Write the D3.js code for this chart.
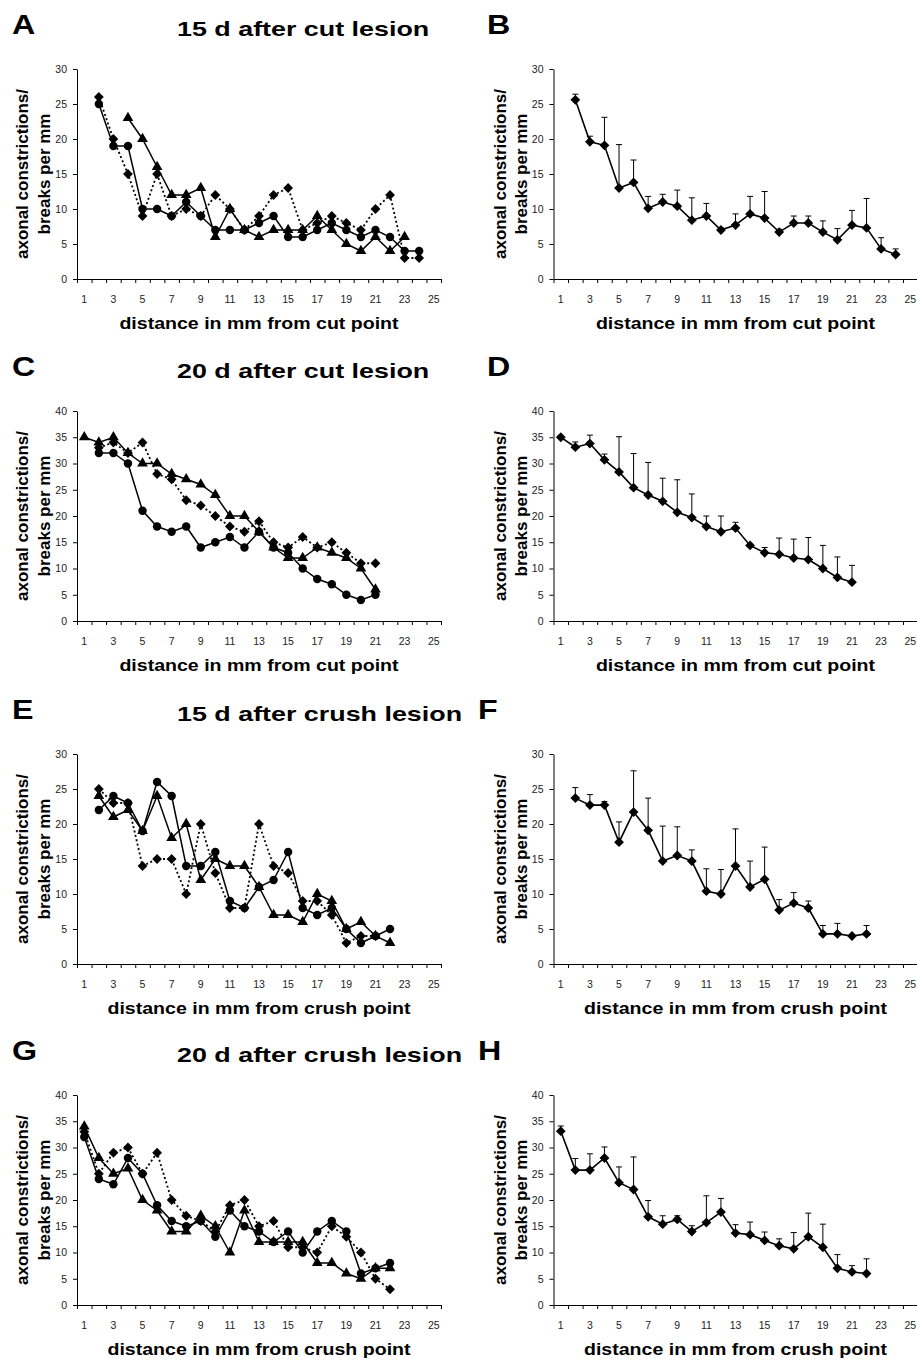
<!DOCTYPE html>
<html>
<head>
<meta charset="utf-8">
<script src="https://cdnjs.cloudflare.com/ajax/libs/d3/7.8.5/d3.min.js"></script>
<style>
  body { margin: 0; background: #fff; }
  svg text { font-family: "Liberation Sans", Arial, sans-serif; }
</style>
</head>
<body>
<svg id="fig" width="917" height="1363"></svg>
<script>
// values indexed by distance (index 0 = 1 mm); null where no point was drawn
var aDiamond  = [null, 26, 20, 15, 9, 15, 9, 10, 9, 12, 10, 7, 9, 12, 13, 7, 8, 9, 8, 7, 10, 12, 3, 3];
var aCircle   = [null, 25, 19, 19, 10, 10, 9, 11, 9, 7, 7, 7, 8, 9, 6, 6, 7, 8, 7, 6, 7, 6, 4, 4];
var aTriangle = [null, null, null, 23, 20, 16, 12, 12, 13, 6, 10, 7, 6, 7, 7, 7, 9, 7, 5, 4, 6, 4, 6, null];
var bMean = [null, 25.6, 19.6, 19.1, 13.0, 13.8, 10.1, 11.0, 10.4, 8.4, 9.0, 7.0, 7.7, 9.3, 8.7, 6.7, 8.0, 8.0, 6.7, 5.6, 7.7, 7.3, 4.3, 3.5];
var bSd   = [null, 0.8, 0.8, 4.0, 6.2, 3.2, 1.7, 1.1, 2.3, 3.2, 1.8, 0.3, 1.6, 2.5, 3.8, 0.4, 1.0, 1.0, 1.6, 1.6, 2.1, 4.2, 1.6, 0.8];

var cDiamond  = [null, 33, 34, 32, 34, 28, 27, 23, 22, 20, 18, 17, 19, 15, 14, 16, 14, 15, 13, 11, 11];
var cCircle   = [null, 32, 32, 30, 21, 18, 17, 18, 14, 15, 16, 14, 17, 14, 13, 10, 8, 7, 5, 4, 5];
var cTriangle = [35, 34, 35, 32, 30, 30, 28, 27, 26, 24, 20, 20, 17, 14, 12, 12, 14, 13, 12, 10, 6];
var dMean = [35.0, 33.1, 33.8, 30.7, 28.4, 25.4, 24.0, 22.8, 20.7, 19.7, 18.0, 17.0, 17.7, 14.4, 13.0, 12.7, 12.0, 11.7, 10.0, 8.3, 7.4];
var dSd   = [0.3, 1.0, 1.6, 1.1, 6.7, 6.5, 6.2, 4.4, 6.2, 4.5, 2.0, 3.0, 1.1, 0.3, 1.0, 3.1, 3.6, 4.2, 4.4, 3.9, 3.2];

var eDiamond  = [null, 25, 23, 23, 14, 15, 15, 10, 20, 13, 8, 8, 20, 14, 13, 9, 9, 7, 3, 4, 4, null];
var eCircle   = [null, 22, 24, 23, 19, 26, 24, 14, 14, 16, 9, 8, 11, 12, 16, 8, 7, 8, 5, 3, 4, 5];
var eTriangle = [null, 24, 21, 22, 19, 24, 18, 20, 12, 15, 14, 14, 11, 7, 7, 6, 10, 9, 5, 6, 4, 3];
var fMean = [null, 23.7, 22.7, 22.7, 17.4, 21.7, 19.1, 14.7, 15.5, 14.7, 10.4, 10.0, 14.0, 11.0, 12.1, 7.7, 8.7, 8.0, 4.3, 4.3, 4.0, 4.3];
var fSd   = [null, 1.5, 1.5, 0.5, 2.9, 5.9, 4.6, 5.0, 4.1, 1.6, 3.2, 3.5, 5.3, 3.7, 4.6, 1.5, 1.5, 1.0, 1.2, 1.5, 0.2, 1.2];

var gDiamond  = [33, 25, 29, 30, 25, 29, 20, 17, 16, 14, 19, 20, 15, 16, 11, 11, 10, 15, 13, 10, 5, 3];
var gCircle   = [32, 24, 23, 28, 25, 19, 16, 15, 16, 13, 18, 15, 14, 12, 14, 10, 14, 16, 14, 6, 7, 8];
var gTriangle = [34, 28, 25, 26, 20, 18, 14, 14, 17, 15, 10, 18, 12, 12, 12, 12, 8, 8, 6, 5, 7, 7];
var hMean = [33.1, 25.7, 25.7, 28.0, 23.3, 22.0, 16.8, 15.4, 16.3, 14.0, 15.7, 17.7, 13.7, 13.4, 12.3, 11.3, 10.7, 13.0, 11.0, 7.0, 6.3, 6.0];
var hSd   = [1.0, 2.2, 3.1, 2.1, 3.0, 6.2, 3.1, 1.6, 0.7, 1.1, 5.1, 2.6, 1.6, 2.4, 1.6, 1.3, 3.1, 4.5, 4.4, 2.6, 1.2, 2.8];

var xLabels = [1, 3, 5, 7, 9, 11, 13, 15, 17, 19, 21, 23, 25];
var yTicks30 = [0, 5, 10, 15, 20, 25, 30];
var yTicks40 = [0, 5, 10, 15, 20, 25, 30, 35, 40];
var yTitle = ['axonal constrictions/', 'breaks per mm'];

var panels = [
  { letter: 'A', title: '15 d after cut lesion', row: 0, col: 0, ticks: yTicks30, xTitle: 'distance in mm from cut point',
    series: [{ vals: aCircle, mark: 'circle' }, { vals: aTriangle, mark: 'triangle' }, { vals: aDiamond, mark: 'diamond', dotted: true }] },
  { letter: 'B', row: 0, col: 1, ticks: yTicks30, xTitle: 'distance in mm from cut point', mean: bMean, sd: bSd },
  { letter: 'C', title: '20 d after cut lesion', row: 1, col: 0, ticks: yTicks40, xTitle: 'distance in mm from cut point',
    series: [{ vals: cCircle, mark: 'circle' }, { vals: cTriangle, mark: 'triangle' }, { vals: cDiamond, mark: 'diamond', dotted: true }] },
  { letter: 'D', row: 1, col: 1, ticks: yTicks40, xTitle: 'distance in mm from cut point', mean: dMean, sd: dSd },
  { letter: 'E', title: '15 d after crush lesion', row: 2, col: 0, ticks: yTicks30, xTitle: 'distance in mm from crush point',
    series: [{ vals: eCircle, mark: 'circle' }, { vals: eTriangle, mark: 'triangle' }, { vals: eDiamond, mark: 'diamond', dotted: true }] },
  { letter: 'F', row: 2, col: 1, ticks: yTicks30, xTitle: 'distance in mm from crush point', mean: fMean, sd: fSd },
  { letter: 'G', title: '20 d after crush lesion', row: 3, col: 0, ticks: yTicks40, xTitle: 'distance in mm from crush point',
    series: [{ vals: gCircle, mark: 'circle' }, { vals: gTriangle, mark: 'triangle' }, { vals: gDiamond, mark: 'diamond', dotted: true }] },
  { letter: 'H', row: 3, col: 1, ticks: yTicks40, xTitle: 'distance in mm from crush point', mean: hMean, sd: hSd }
];

var rowTops = [69, 411, 754, 1095];
var colLefts = [77, 553.5];
var letterX = { A: 12, B: 487, C: 12, D: 487, E: 12, F: 478, G: 12, H: 478 };
var yTitleX = [[28, 49.5], [506, 527]];
var plotW = 364, plotH = 210;

var svg = d3.select('#fig');

var symbols = {
  circle: d3.symbol(d3.symbolCircle, 56),
  triangle: d3.symbol(d3.symbolTriangle, 50),
  diamond: d3.symbol(d3.symbolSquare, 48)
};

// stretch text horizontally like the exported figure
function stretch(sel, k) {
  sel.each(function() {
    var w = this.getComputedTextLength();
    d3.select(this).attr('textLength', w * k).attr('lengthAdjust', 'spacingAndGlyphs');
  });
}

function toPoints(vals) {
  return vals.map(function(v, i) { return { d: i + 1, v: v }; })
    .filter(function(p) { return p.v != null; });
}

function drawMarks(g, pts, mark, x, y) {
  g.selectAll(null).data(pts).enter()
    .append('path')
    .attr('d', symbols[mark])
    .attr('fill', '#000')
    .attr('transform', function(p) {
      return 'translate(' + x(p.d) + ',' + y(p.v) + ')' + (mark === 'diamond' ? ' rotate(45)' : '');
    });
}

function drawPanel(p) {
  var left = colLefts[p.col];
  var top = rowTops[p.row];
  var yMax = p.ticks[p.ticks.length - 1];

  var x = d3.scaleLinear().domain([0.5, 25.5]).range([left, left + plotW]);
  var y = d3.scaleLinear().domain([0, yMax]).range([top + plotH, top]);
  var g = svg.append('g');

  var xAxis = d3.axisBottom(x)
    .tickValues(d3.range(0.5, 26, 1))
    .tickSize(4).tickSizeOuter(0)
    .tickFormat('');
  g.append('g').attr('transform', 'translate(0,' + (top + plotH) + ')').call(xAxis);

  g.selectAll(null).data(xLabels).enter()
    .append('text')
    .attr('x', function(d) { return x(d); })
    .attr('y', top + plotH + 23.5)
    .attr('text-anchor', 'middle')
    .attr('font-size', 10.5)
    .attr('fill', '#222')
    .text(function(d) { return d; });

  var yAxis = d3.axisLeft(y).tickValues(p.ticks).tickSize(4).tickSizeOuter(0).tickPadding(6);
  var ya = g.append('g').attr('transform', 'translate(' + left + ',0)').call(yAxis);
  ya.selectAll('text').attr('font-size', 10.5).attr('fill', '#222').attr('font-family', null);
  g.selectAll('.domain, .tick line').attr('stroke', '#000');

  // axis titles
  yTitle.forEach(function(t, i) {
    g.append('text')
      .attr('transform', 'translate(' + yTitleX[p.col][i] + ',' + (top + plotH / 2) + ') rotate(-90)')
      .attr('text-anchor', 'middle')
      .attr('font-size', 17)
      .attr('font-weight', 'bold')
      .text(t);
  });

  g.append('text')
    .attr('x', left + plotW / 2)
    .attr('y', top + plotH + 50)
    .attr('text-anchor', 'middle')
    .attr('font-size', 17)
    .attr('font-weight', 'bold')
    .text(p.xTitle)
    .call(stretch, 1.15);

  g.append('text')
    .attr('x', letterX[p.letter])
    .attr('y', top - 35)
    .attr('font-size', 28)
    .attr('font-weight', 'bold')
    .text(p.letter)
    .call(stretch, 1.15);

  if (p.title) {
    g.append('text')
      .attr('x', 177)
      .attr('y', top - 33)
      .attr('font-size', 20.5)
      .attr('font-weight', 'bold')
      .text(p.title)
      .call(stretch, 1.31);
  }

  var line = d3.line()
    .x(function(d) { return x(d.d); })
    .y(function(d) { return y(d.v); });

  if (p.series) {
    p.series.forEach(function(s) {
      var pts = toPoints(s.vals);
      g.append('path')
        .attr('d', line(pts))
        .attr('fill', 'none')
        .attr('stroke', '#000')
        .attr('stroke-width', s.dotted ? 1.8 : 1.5)
        .attr('stroke-dasharray', s.dotted ? '2,2.5' : null);
      drawMarks(g, pts, s.mark, x, y);
    });
  } else {
    var pts = toPoints(p.mean);
    pts.forEach(function(pt) { pt.sd = p.sd[pt.d - 1]; });

    var bars = g.selectAll(null).data(pts).enter().append('g');
    bars.append('line')
      .attr('x1', function(d) { return x(d.d); })
      .attr('x2', function(d) { return x(d.d); })
      .attr('y1', function(d) { return y(d.v); })
      .attr('y2', function(d) { return y(d.v + d.sd); })
      .attr('stroke', '#000').attr('stroke-width', 1);
    bars.append('line')
      .attr('x1', function(d) { return x(d.d) - 3; })
      .attr('x2', function(d) { return x(d.d) + 3; })
      .attr('y1', function(d) { return y(d.v + d.sd); })
      .attr('y2', function(d) { return y(d.v + d.sd); })
      .attr('stroke', '#000').attr('stroke-width', 1);

    g.append('path')
      .attr('d', line(pts))
      .attr('fill', 'none')
      .attr('stroke', '#000')
      .attr('stroke-width', 1.6);
    drawMarks(g, pts, 'diamond', x, y);
  }
}

panels.forEach(drawPanel);
</script>
</body>
</html>
